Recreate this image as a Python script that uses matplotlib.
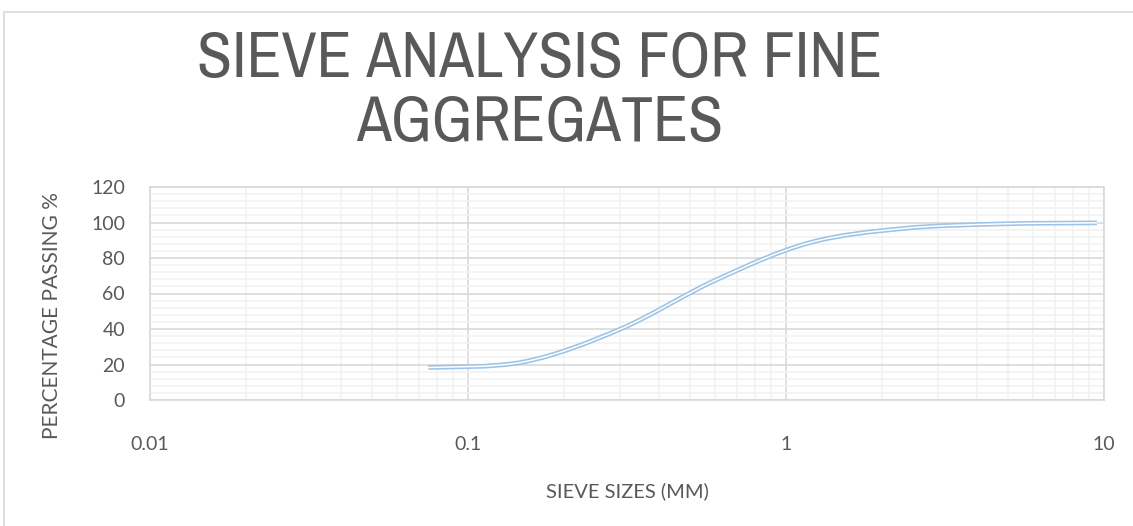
import numpy as np
import matplotlib
matplotlib.use("Agg")
import matplotlib.pyplot as plt
from matplotlib import font_manager
from matplotlib.path import Path
from matplotlib.patches import PathPatch, Rectangle
from matplotlib.ticker import FixedLocator, NullFormatter

# sieve data (mm, % passing)
sieve_sizes = [0.075, 0.15, 0.3, 0.6, 1.18, 2.36, 4.75, 9.5]
passing = [18.3, 21.5, 39.8, 67.5, 88.5, 96.7, 99.2, 99.8]
x_ticks = [0.01, 0.1, 1, 10]
x_tick_labels = ["0.01", "0.1", "1", "10"]
y_ticks = [0, 20, 40, 60, 80, 100, 120]

grey = "#595959"
line_blue = "#9DC3E6"
tick_font = ["Lato", "DejaVu Sans"]

# look for a narrow sans for the title (Excel's looks condensed)
narrow = None
for f in font_manager.fontManager.ttflist:
    if "Narrow" in f.name or "Condensed" in f.name:
        narrow = f.name
        break
    if f.name in ("Liberation Sans", "DejaVu Sans") and str(f.stretch) in ("condensed", "semi-condensed", "75", "87"):
        narrow = f.name
if narrow is None:
    title_font = ["Liberation Sans", "DejaVu Sans"]
    title_size = 40
else:
    title_font = [narrow, "Liberation Sans", "DejaVu Sans"]
    title_size = 46

W, H = 1133, 526
fig = plt.figure(figsize=(W / 100, H / 100), dpi=100)
fig.patch.set_facecolor("white")

# outer chart border (only top/left visible in the crop)
fig.patches.append(Rectangle((4 / W, -0.1), 1.2, 1 - 11.5 / H + 0.1, transform=fig.transFigure,
                             fill=False, edgecolor="#D9D9D9", linewidth=1.2))

ax = fig.add_axes([150 / W, 1 - 400 / H, (1104 - 150) / W, (400 - 187) / H])
ax.set_xscale("log")
ax.set_xlim(0.01, 10)
ax.set_ylim(0, 120)

# gridlines
ax.xaxis.set_major_locator(FixedLocator(x_ticks))
minor_x = [m * d for d in [0.01, 0.1, 1] for m in range(2, 10)]
ax.xaxis.set_minor_locator(FixedLocator(minor_x))
ax.xaxis.set_minor_formatter(NullFormatter())
ax.set_yticks(y_ticks)
ax.set_yticks(np.arange(0, 121, 4), minor=True)
ax.grid(which="minor", color="#F2F2F2", linewidth=1.2, zorder=0)
ax.grid(which="major", color="#D9D9D9", linewidth=1.2, zorder=0)
ax.set_axisbelow(True)
for s in ax.spines.values():
    s.set_color("#D9D9D9")
    s.set_linewidth(1.2)
ax.tick_params(which="both", length=0)
ax.set_xticklabels(x_tick_labels)
ax.tick_params(axis="x", pad=26, labelsize=14, labelcolor=grey)
ax.tick_params(axis="y", pad=18, labelsize=14, labelcolor=grey)
for lab in ax.get_xticklabels() + ax.get_yticklabels():
    lab.set_family(tick_font)

# smoothed line like Excel (Catmull-Rom bezier in log-x space)
u = np.log10(sieve_sizes)
v = np.array(passing, dtype=float)
n = len(u)
verts = [(sieve_sizes[0], v[0])]
codes = [Path.MOVETO]
for i in range(n - 1):
    p0 = max(i - 1, 0)
    p3 = min(i + 2, n - 1)
    c1u = u[i] + (u[i + 1] - u[p0]) / 6
    c1v = v[i] + (v[i + 1] - v[p0]) / 6
    c2u = u[i + 1] - (u[p3] - u[i]) / 6
    c2v = v[i + 1] - (v[p3] - v[i]) / 6
    verts += [(10 ** c1u, c1v), (10 ** c2u, c2v), (sieve_sizes[i + 1], v[i + 1])]
    codes += [Path.CURVE4] * 3
path = Path(verts, codes)
ax.add_patch(PathPatch(path, fill=False, edgecolor=line_blue, linewidth=3.4,
                       capstyle="butt", zorder=3))
ax.add_patch(PathPatch(path, fill=False, edgecolor="white", linewidth=1.1,
                       capstyle="butt", zorder=4))

ax.set_xlabel("SIEVE SIZES (MM)", fontsize=14.5, color=grey, family=tick_font, labelpad=21)
ax.set_ylabel("PERCENTAGE PASSING %", fontsize=15, color=grey, family=tick_font)
ax.yaxis.set_label_coords(-88 / (1104 - 150), (400 - 316) / (400 - 187))

fig.text(540 / W, 1 - 91 / H, "SIEVE ANALYSIS FOR FINE\nAGGREGATES", ha="center", va="center",
         fontsize=title_size, color=grey, family=title_font, fontweight="light",
         linespacing=1.12)

fig.savefig("out.png", dpi=100, facecolor="white")
